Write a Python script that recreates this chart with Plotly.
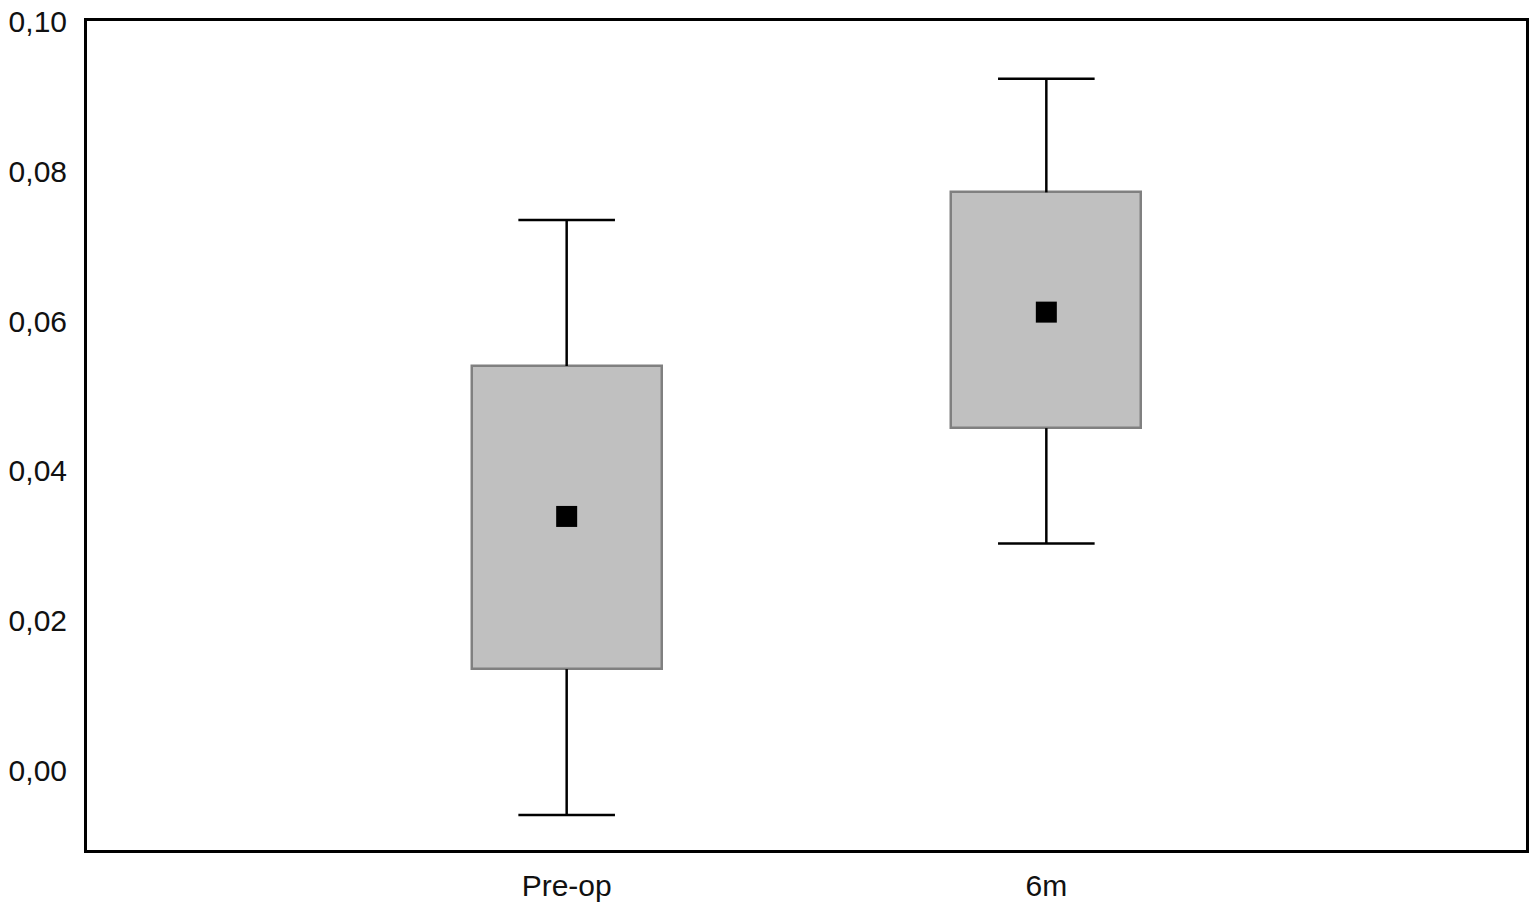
import plotly.graph_objects as go

categories = ["Pre-op", "6m"]
means = [0.0339, 0.0612]
box_low = [0.0135, 0.0457]
box_high = [0.0540, 0.0772]
whisker_low = [-0.0060, 0.0303]
whisker_high = [0.0735, 0.0924]
y_ticks = [0.00, 0.02, 0.04, 0.06, 0.08, 0.10]
y_tick_labels = ["0,00", "0,02", "0,04", "0,06", "0,08", "0,10"]

fig = go.Figure()

# boxes
fig.add_trace(go.Bar(
    x=categories, base=box_low,
    y=[h - l for h, l in zip(box_high, box_low)],
    width=0.396,
    marker=dict(color="#c0c0c0", line=dict(color="#808080", width=2.5)),
    showlegend=False, hoverinfo="skip"))

# whisker stems
stem_x, stem_y = [], []
for c, bl, bh, wl, wh in zip(categories, box_low, box_high, whisker_low, whisker_high):
    stem_x += [c, c, None, c, c, None]
    stem_y += [bh, wh, None, bl, wl, None]
fig.add_trace(go.Scatter(
    x=stem_x, y=stem_y, mode="lines",
    line=dict(color="black", width=2.5),
    showlegend=False, hoverinfo="skip", connectgaps=False))

# whisker caps
fig.add_trace(go.Scatter(
    x=categories + categories, y=whisker_high + whisker_low, mode="markers",
    marker=dict(symbol="line-ew", size=69, line=dict(color="black", width=2.5)),
    showlegend=False, hoverinfo="skip"))

# means
fig.add_trace(go.Scatter(
    x=categories, y=means, mode="markers",
    marker=dict(symbol="square", size=21, color="black"),
    showlegend=False))

fig.update_layout(
    width=1535, height=909,
    margin=dict(l=87, r=9, t=21, b=59),
    paper_bgcolor="white", plot_bgcolor="white",
    font=dict(family="Liberation Sans, Arial, sans-serif", size=30, color="#111"),
    bargap=0,
)
fig.update_xaxes(
    type="category", range=[-1, 2], automargin=False,
    showline=True, linecolor="black", linewidth=3, mirror=True,
    showgrid=False, zeroline=False, ticks="", ticklabelstandoff=7,
    ticklabeloverflow="allow",
)
fig.update_yaxes(
    range=[-0.01067, 0.1001], automargin=False,
    tickvals=y_ticks, ticktext=y_tick_labels,
    showline=True, linecolor="black", linewidth=3, mirror=True,
    showgrid=False, zeroline=False, ticks="", ticklabelstandoff=11,
    ticklabeloverflow="allow",
)

fig.write_html(
    "out.html",
    config={"displayModeBar": False},
    post_script="document.body.style.margin='0';document.body.style.overflow='hidden';",
)
